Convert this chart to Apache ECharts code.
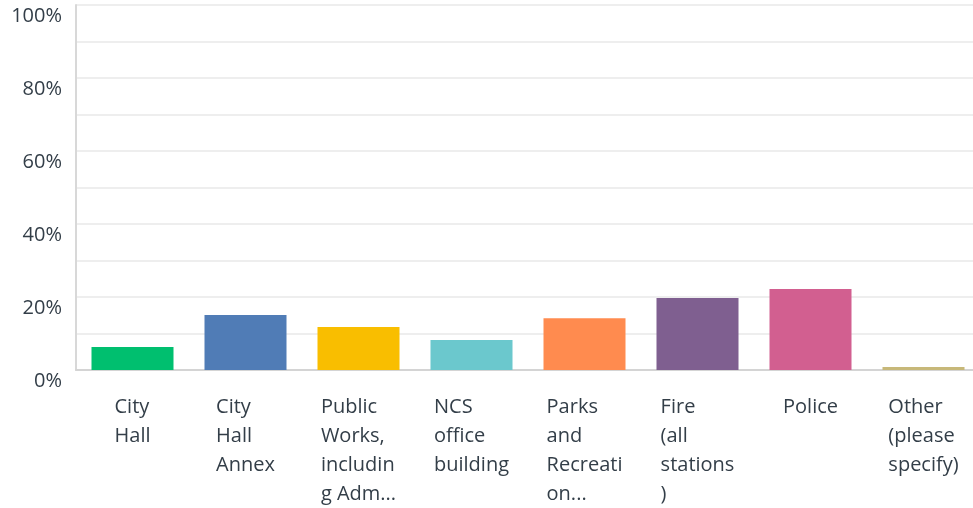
<!DOCTYPE html>
<html>
<head>
<meta charset="utf-8">
<script src="https://cdn.jsdelivr.net/npm/echarts@6/dist/echarts.min.js"></script>
<style>
  html, body { margin: 0; padding: 0; background: #ffffff; overflow: hidden; }
  /* the plot runs a little past the right edge of the page */
  #chart { width: 980px; height: 508px; }
</style>
</head>
<body>
<div id="chart"></div>
<script>
// Building categories, as wrapped on the axis
const categories = [
  "City\nHall",
  "City\nHall\nAnnex",
  "Public\nWorks,\nincludin\ng Adm...",
  "NCS\noffice\nbuilding",
  "Parks\nand\nRecreati\non...",
  "Fire\n(all\nstations\n)",
  "Police",
  "Other\n(please\nspecify)"
];

// Share of responses (%)
const values = [6.3, 15.1, 11.8, 8.2, 14.2, 19.7, 22.2, 0.8];

const barColors = [
  "#00bf6f", "#507cb6", "#f9be00", "#6bc8cd",
  "#ff8b4f", "#7f5f90", "#d25f90", "#c7b879"
];

// Labelled y ticks
const yTickLabels = [0, 20, 40, 60, 80, 100];

const textColor = "#333e48";
const fontFamily = "'Open Sans', 'Noto Sans', sans-serif";

const chart = echarts.init(document.getElementById("chart"), null, { renderer: "canvas" });

chart.setOption({
  animation: false,
  backgroundColor: "#ffffff",
  grid: { left: 76, top: 5, right: 0, bottom: 138, containLabel: false },
  xAxis: {
    type: "category",
    data: categories,
    axisLine: { show: true, lineStyle: { color: "#d4d4d4", width: 2 } },
    axisTick: { show: false },
    axisLabel: {
      interval: 0,
      margin: 23,
      align: "center",
      // each line starts at the left edge of a block centred under its bar
      formatter: function (v) {
        return v.split("\n").map(function (s) { return "{l|" + s + "}"; }).join("\n");
      },
      rich: {
        l: {
          align: "left",
          color: textColor,
          fontFamily: fontFamily,
          fontSize: 20,
          lineHeight: 29
        }
      }
    }
  },
  yAxis: {
    type: "value",
    min: 0,
    max: 100,
    interval: 10,
    axisLine: { show: true, lineStyle: { color: "#d8d8d8", width: 2 } },
    axisTick: { show: false },
    splitLine: { show: true, lineStyle: { color: "#eeeeee", width: 2 } },
    axisLabel: {
      margin: 14,
      color: textColor,
      fontFamily: fontFamily,
      fontSize: 20,
      verticalAlign: "top",
      lineHeight: 22,
      formatter: function (v) {
        return yTickLabels.indexOf(v) >= 0 ? v + "%" : "";
      }
    }
  },
  series: [{
    type: "bar",
    data: values.map(function (v, i) {
      return { value: v, itemStyle: { color: barColors[i] } };
    }),
    barWidth: 82,
    label: { show: false }
  }]
});
</script>
</body>
</html>
